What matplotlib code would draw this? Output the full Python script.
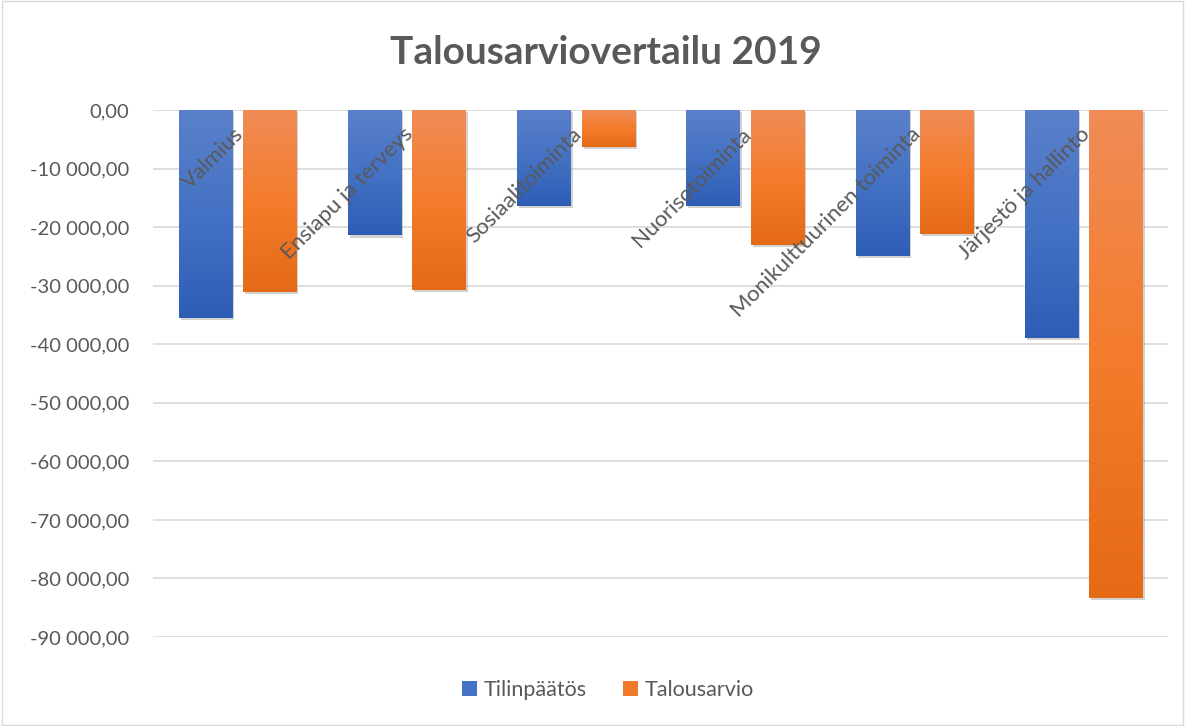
import numpy as np
import matplotlib.pyplot as plt
from matplotlib.colors import LinearSegmentedColormap
from matplotlib.patches import Rectangle

categories = ["Valmius", "Ensiapu ja terveys", "Sosiaalitoiminta", "Nuorisotoiminta",
              "Monikulttuurinen toiminta", "Järjestö ja hallinto"]
tilinpaatos = [-35500, -21400, -16400, -16400, -24900, -38900]
talousarvio = [-31000, -30700, -6300, -23000, -21200, -83300]
series_names = ["Tilinpäätös", "Talousarvio"]

plt.rcParams['font.family'] = ['Lato', 'DejaVu Sans']
grey = "#595959"

blue_cmap = LinearSegmentedColormap.from_list("b", ["#5B80CA", "#4472C4", "#2E5DB6"])
orange_cmap = LinearSegmentedColormap.from_list("o", ["#F08C57", "#F47C2C", "#E46A16"])


def fmt(v):
    s = f"{abs(v):,.2f}".replace(",", " ").replace(".", ",")
    if v < 0:
        s = "-" + s
    return s


fig = plt.figure(figsize=(11.85, 7.26), dpi=100)
fig.patches.append(Rectangle((0.002, 0.002), 0.996, 0.996, transform=fig.transFigure,
                             fill=False, edgecolor="#D9D9D9", linewidth=1))
ax = fig.add_axes([0.129, 0.1226, 0.857, 0.7259])

x = np.arange(len(categories))
w = 0.315
off = 0.19
grad = np.linspace(0, 1, 256).reshape(-1, 1)

for vals, dx, cmap, name, col in [(tilinpaatos, -off, blue_cmap, series_names[0], "#4472C4"),
                                  (talousarvio, off, orange_cmap, series_names[1], "#F07A2A")]:
    # shadow
    ax.bar(x + dx + 0.012, vals, w, bottom=-400, color="#7F7F7F", alpha=0.35, zorder=1)
    bars = ax.bar(x + dx, vals, w, color=col, label=name, zorder=2)
    for b in bars:
        x0 = b.get_x()
        x1 = x0 + b.get_width()
        y1 = b.get_height()
        im = ax.imshow(grad, extent=[x0, x1, y1, 0], aspect="auto", cmap=cmap,
                       zorder=3, interpolation="bicubic", origin="upper")
        im.set_clip_path(b)

ax.set_xlim(-0.5, len(categories) - 0.5)
ax.set_ylim(-90000, 0)
ax.set_yticks(np.arange(-90000, 1, 10000))
ax.set_yticklabels([fmt(v) for v in np.arange(-90000, 1, 10000)], fontsize=14.5, color=grey)
ax.set_xticks([])
ax.tick_params(axis="y", length=0, pad=17)
ax.grid(axis="y", color="#D9D9D9", linewidth=1.2, zorder=0)
ax.set_axisbelow(True)
for s in ax.spines.values():
    s.set_visible(False)

for i, c in enumerate(categories):
    ax.text(i + 0.06, -4800, c, rotation=45, rotation_mode="anchor", ha="right", va="bottom",
            fontsize=16, color=grey, zorder=5)

fig.text(0.511, 0.927, "Talousarviovertailu 2019", ha="center", va="center",
         fontsize=28, fontweight="bold", color=grey)

fig.legend(*ax.get_legend_handles_labels(), loc="center", bbox_to_anchor=(0.513, 0.05), ncol=2,
           frameon=False, fontsize=15.5, labelcolor=grey, handlelength=0.7, handleheight=0.7,
           handletextpad=0.3, columnspacing=1.7)

fig.savefig("out.png", dpi=100)
